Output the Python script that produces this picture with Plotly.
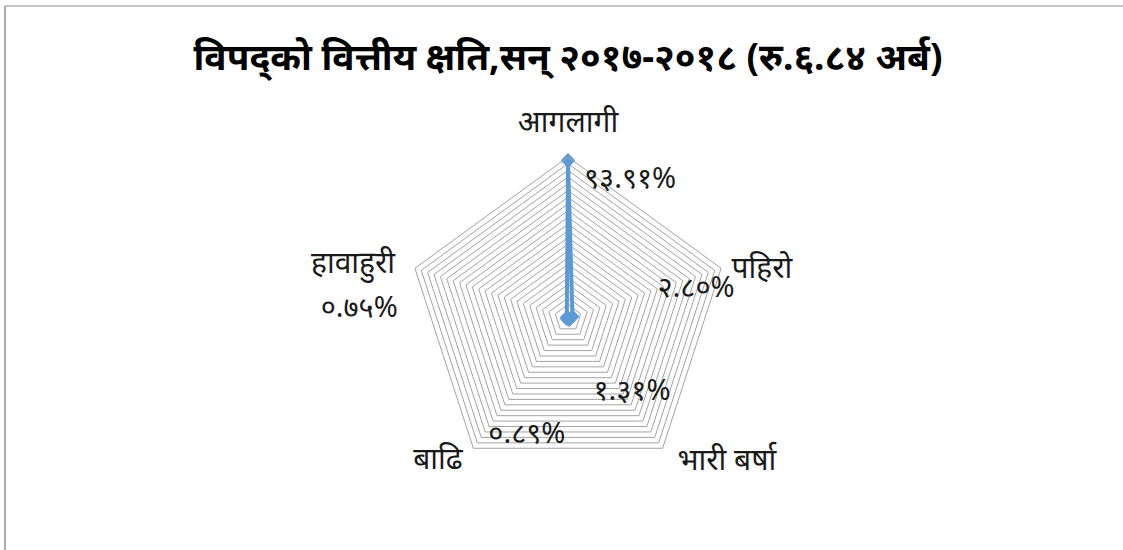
import plotly.graph_objects as go

# data
title_text = "विपद्को वित्तीय क्षति,सन् २०१७-२०१८ (रु.६.८४ अर्ब)"
categories = ["आगलागी", "पहिरो", "भारी बर्षा", "बाढि", "हावाहुरी"]
values = [93.91, 2.80, 1.31, 0.89, 0.75]
value_labels = ["९३.९१%", "२.८०%", "१.३१%", "०.८९%", "०.७५%"]

# label placement in the overlay polar (radius in % of the outer pentagon, angle clockwise from top)
cat_label_r = [119.9, 124.1, 133.2, 120.5, 137.5]
cat_label_theta = [0, 76.1, 132.2, 222.1, 283.8]
val_label_r = [93.4, 81.4, 61.2, 77.6, 129.8]
val_label_theta = [24.4, 77.7, 139.5, 199.2, 272.2]

BLUE = "#5B9BD5"
GRID = "#a3a3a3"
FONT = "Noto Sans, DejaVu Sans, sans-serif"

W, H = 1123, 550
cx, cy, rad = 568, 318, 161      # chart centre / outer radius in px
rad2 = 232                        # overlay polar radius in px
r_max = 96

fig = go.Figure()

# the series, closed loop
fig.add_trace(go.Scatterpolar(
    r=values + values[:1],
    theta=categories + categories[:1],
    mode="lines+markers",
    line=dict(color=BLUE, width=4),
    marker=dict(symbol="diamond", size=11, color=BLUE),
    hoverinfo="skip",
    subplot="polar",
))

# category names
fig.add_trace(go.Scatterpolar(
    r=cat_label_r, theta=cat_label_theta,
    mode="text", text=categories,
    textfont=dict(family=FONT, size=30, color="#1a1a1a"),
    cliponaxis=False, hoverinfo="skip",
    subplot="polar2",
))

# data labels
fig.add_trace(go.Scatterpolar(
    r=val_label_r, theta=val_label_theta,
    mode="text", text=value_labels,
    textfont=dict(family=FONT, size=29, color="#1a1a1a"),
    cliponaxis=False, hoverinfo="skip",
    subplot="polar2",
))

hidden = dict(visible=False, showgrid=False, showline=False, showticklabels=False, ticks="")

fig.update_layout(
    width=W, height=H,
    margin=dict(l=0, r=0, t=0, b=0),
    paper_bgcolor="white",
    plot_bgcolor="white",
    showlegend=False,
    title=dict(
        text="<b>" + title_text + "</b>",
        x=568 / W, xanchor="center",
        y=1 - 57 / H, yanchor="middle",
        font=dict(family=FONT, size=37, color="black"),
    ),
    polar=dict(
        domain=dict(x=[(cx - rad) / W, (cx + rad) / W],
                    y=[(H - cy - rad) / H, (H - cy + rad) / H]),
        gridshape="linear",
        bgcolor="white",
        radialaxis=dict(
            range=[0, r_max], dtick=4,
            showticklabels=False, ticks="",
            showline=False,
            gridcolor=GRID, gridwidth=1,
        ),
        angularaxis=dict(
            type="category",
            direction="clockwise", rotation=90,
            showticklabels=False, ticks="",
            showgrid=False,
            showline=True, linecolor=GRID, linewidth=1,
        ),
    ),
    polar2=dict(
        domain=dict(x=[(cx - rad2) / W, (cx + rad2) / W],
                    y=[0, (H - cy + rad2) / H]),
        bgcolor="rgba(0,0,0,0)",
        radialaxis=dict(range=[0, 100 * rad2 / rad], **hidden),
        angularaxis=dict(type="linear", direction="clockwise", rotation=90, **hidden),
    ),
    shapes=[
        dict(type="line", xref="paper", yref="paper",
             x0=5 / W, x1=1.0, y0=1 - 6 / H, y1=1 - 6 / H,
             line=dict(color="#b0b0b0", width=1.5)),
        dict(type="line", xref="paper", yref="paper",
             x0=5 / W, x1=5 / W, y0=0, y1=1 - 6 / H,
             line=dict(color="#909090", width=1.5)),
    ],
)

# drop the default page margin so the figure sits at the window origin
fig.write_html("out.html", config={"displayModeBar": False},
               post_script="document.body.style.margin='0';")
